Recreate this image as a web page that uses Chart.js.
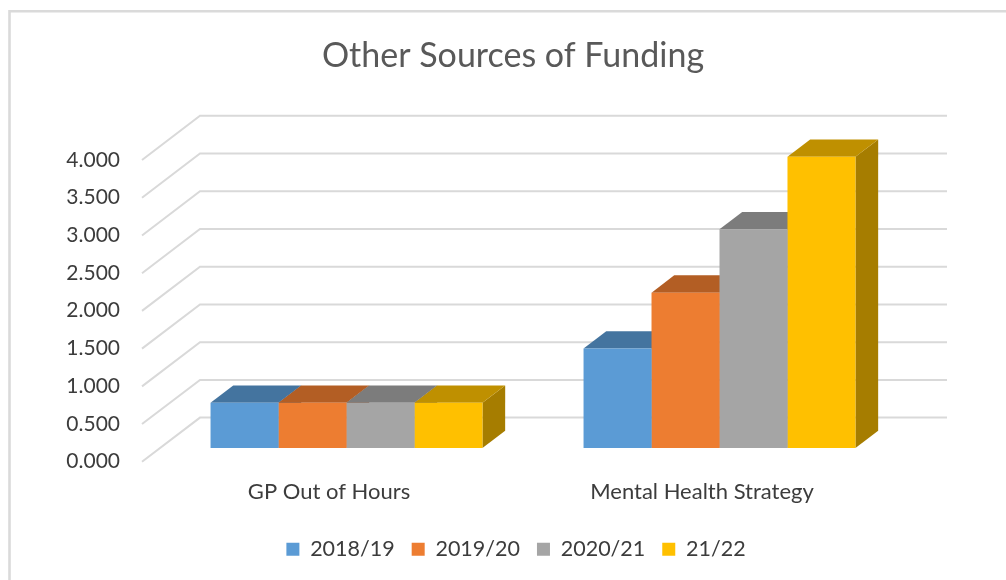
<!DOCTYPE html>
<html><head><meta charset="utf-8">
<style>html,body{margin:0;padding:0;background:#fff}canvas{display:block}</style>
<script src="https://cdn.jsdelivr.net/npm/chart.js@4/dist/chart.umd.min.js"></script>
</head><body>
<canvas id="c" width="1006" height="580"></canvas>
<script>
const categories = ["GP Out of Hours", "Mental Health Strategy"];
const seriesNames = ["2018/19", "2019/20", "2020/21", "21/22"];
const values2018 = [0.60, 1.32];
const values2019 = [0.60, 2.06];
const values2020 = [0.60, 2.90];
const values2122 = [0.60, 3.86];
const frontColours = ["#5B9BD5", "#ED7D31", "#A5A5A5", "#FFC000"];
const topColours = ["#44749F", "#B35E24", "#7C7C7C", "#BF9000"];
const sideColours = ["#3B6589", "#9A5120", "#6B6B6B", "#A67D00"];
const FONT = "Lato, 'Open Sans', sans-serif";

function poly(ctx, pts, fill) {
  ctx.beginPath();
  pts.forEach((p, i) => i ? ctx.lineTo(p[0], p[1]) : ctx.moveTo(p[0], p[1]));
  ctx.closePath();
  ctx.fillStyle = fill;
  ctx.fill();
}

const depth3d = {
  id: "depth3d",
  afterLayout(chart) {
    chart.legend.left += 3;
    chart.legend.right += 3;
  },
  beforeDatasetsDraw(chart) {
    const ctx = chart.ctx, y = chart.scales.y, a = chart.chartArea;
    ctx.save();
    // chart frame: left and top edges only are visible in the crop
    ctx.strokeStyle = "#DADADA"; ctx.lineWidth = 2.6;
    ctx.beginPath();
    ctx.moveTo(9.5, 590); ctx.lineTo(9.5, 11.2); ctx.lineTo(1006, 11.2);
    ctx.stroke();
    // walls: one floor-to-back line for each axis tick
    ctx.strokeStyle = "#D9D9D9"; ctx.lineWidth = 2;
    y.ticks.forEach(t => {
      const p = y.getPixelForValue(t.value);
      ctx.beginPath();
      ctx.moveTo(a.left - 18, p + 13.7);
      ctx.lineTo(a.left + 40, p - 30.5);
      ctx.lineTo(a.right + 41, p - 30.5);
      ctx.stroke();
    });
    // top and side faces of each bar
    const dx = 22.7, dy = 17.3;
    chart.data.datasets.forEach((ds, di) => {
      chart.getDatasetMeta(di).data.forEach(b => {
        const l = b.x - b.width / 2, r = b.x + b.width / 2;
        poly(ctx, [[r, b.y], [r + dx, b.y - dy], [r + dx, b.base - dy], [r, b.base]], sideColours[di]);
        poly(ctx, [[l, b.y], [l + dx, b.y - dy], [r + dx, b.y - dy], [r, b.y]], topColours[di]);
      });
    });
    ctx.restore();
  }
};

new Chart(document.getElementById("c"), {
  type: "bar",
  plugins: [depth3d],
  data: {
    labels: categories,
    datasets: [values2018, values2019, values2020, values2122].map((d, i) => ({
      label: seriesNames[i], data: d, backgroundColor: frontColours[i], borderWidth: 0,
      categoryPercentage: 0.729, barPercentage: 1
    }))
  },
  options: {
    responsive: false, animation: false,
    layout: { padding: { left: 20, right: 0, top: 0, bottom: 10 } },
    plugins: {
      title: { display: true, text: "Other Sources of Funding", color: "#595959",
        font: { family: FONT, size: 34, weight: "normal" }, padding: { top: 36, bottom: 69.5 } },
      legend: { position: "bottom",
        labels: { boxWidth: 13, boxHeight: 13, padding: 17, color: "#3C3C3C",
          font: { family: FONT, size: 21.5 } } },
      tooltip: { enabled: false }
    },
    scales: {
      x: {
        grid: { display: false, drawTicks: false }, border: { display: false },
        ticks: { color: "#3C3C3C", font: { family: FONT, size: 22 }, padding: 30.5, labelOffset: -17.5, maxRotation: 0 },
        afterFit(s) { s.height = 73.4; }
      },
      y: {
        min: 0, max: 4,
        grid: { display: false, drawTicks: false }, border: { display: false },
        ticks: { stepSize: 0.5, color: "#3C3C3C", font: { family: FONT, size: 21 }, padding: 40, labelOffset: 13.5,
          callback: v => Number(v).toFixed(3) },
        afterFit(s) { s.width = 140; }
      },
      rightMargin: {
        position: "right", min: 0, max: 4,
        grid: { display: false, drawTicks: false }, border: { display: false },
        ticks: { display: false },
        afterFit(s) { s.width = 100; }
      }
    }
  }
});
</script>
</body></html>
